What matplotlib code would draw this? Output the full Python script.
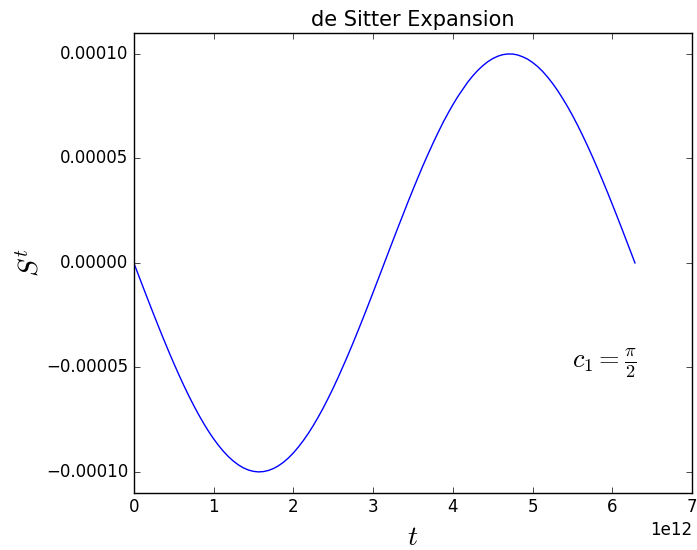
import matplotlib
matplotlib.use("Agg")
import matplotlib.pyplot as plt

plt.style.use("classic")

# time in units of 1e12
t_scaled = [0.0, 0.0625, 0.125, 0.1875, 0.25, 0.3125, 0.375, 0.4375,
            0.5, 0.5625, 0.625, 0.6875, 0.75, 0.8125, 0.875, 0.9375,
            1.0, 1.0625, 1.125, 1.1875, 1.25, 1.3125, 1.375, 1.4375,
            1.5, 1.5625, 1.625, 1.6875, 1.75, 1.8125, 1.875, 1.9375,
            2.0, 2.0625, 2.125, 2.1875, 2.25, 2.3125, 2.375, 2.4375,
            2.5, 2.5625, 2.625, 2.6875, 2.75, 2.8125, 2.875, 2.9375,
            3.0, 3.0625, 3.125, 3.1875, 3.25, 3.3125, 3.375, 3.4375,
            3.5, 3.5625, 3.625, 3.6875, 3.75, 3.8125, 3.875, 3.9375,
            4.0, 4.0625, 4.125, 4.1875, 4.25, 4.3125, 4.375, 4.4375,
            4.5, 4.5625, 4.625, 4.6875, 4.75, 4.8125, 4.875, 4.9375,
            5.0, 5.0625, 5.125, 5.1875, 5.25, 5.3125, 5.375, 5.4375,
            5.5, 5.5625, 5.625, 5.6875, 5.75, 5.8125, 5.875, 5.9375,
            6.0, 6.0625, 6.125, 6.1875, 6.25, 6.283]
# S^t in units of 1e-4
s_scaled = [0.0, -0.0625, -0.1247, -0.1864, -0.2474, -0.3074, -0.3663, -0.4237,
            -0.4794, -0.5333, -0.5851, -0.6346, -0.6816, -0.7260, -0.7675, -0.8062,
            -0.8415, -0.8735, -0.9023, -0.9276, -0.9490, -0.9668, -0.9809, -0.9911,
            -0.9975, -1.0000, -0.9985, -0.9932, -0.9840, -0.9709, -0.9541, -0.9336,
            -0.9093, -0.8813, -0.8502, -0.8160, -0.7781, -0.7373, -0.6939, -0.6472,
            -0.5985, -0.5472, -0.4933, -0.4387, -0.3817, -0.3232, -0.2636, -0.2027,
            -0.1411, -0.0790, -0.0166, 0.0459, 0.1082, 0.1701, 0.2306, 0.2916,
            0.3508, 0.4086, 0.4654, 0.5192, 0.5716, 0.6217, 0.6703, 0.7145,
            0.7568, 0.7960, 0.8309, 0.8654, 0.8950, 0.9211, 0.9434, 0.9625,
            0.9775, 0.9888, 0.9963, 0.9997, 0.9993, 0.9950, 0.9862, 0.9748,
            0.9589, 0.9395, 0.9165, 0.8893, 0.8589, 0.8253, 0.7878, 0.7482,
            0.7055, 0.6598, 0.6115, 0.5610, 0.5083, 0.4535, 0.3966, 0.3389,
            0.2794, 0.2189, 0.1576, 0.0955, 0.0332, 0.0]

t_vals = [v * 1e12 for v in t_scaled]
s_vals = [v * 1e-4 for v in s_scaled]

fig = plt.figure(figsize=(6.97, 5.5), dpi=100, facecolor="white")
ax = fig.add_axes([0.192, 0.104, 0.801, 0.836])
ax.plot(t_vals, s_vals, color="b", linewidth=1.0)

ax.set_xlim(0, 7e12)
ax.set_ylim(-0.00011, 0.00011)
ax.set_yticks([-0.0001, -0.00005, 0.0, 0.00005, 0.0001])
ax.set_title("de Sitter Expansion", fontsize=15)
ax.set_xlabel("$t$", fontsize=20)
ax.set_ylabel("$S^t$", fontsize=20, labelpad=1)
ax.text(5.5e12, -5e-5, r"$c_1 = \frac{\pi}{2}$", fontsize=19)

fig.savefig("out.png", dpi=100, facecolor="white")
